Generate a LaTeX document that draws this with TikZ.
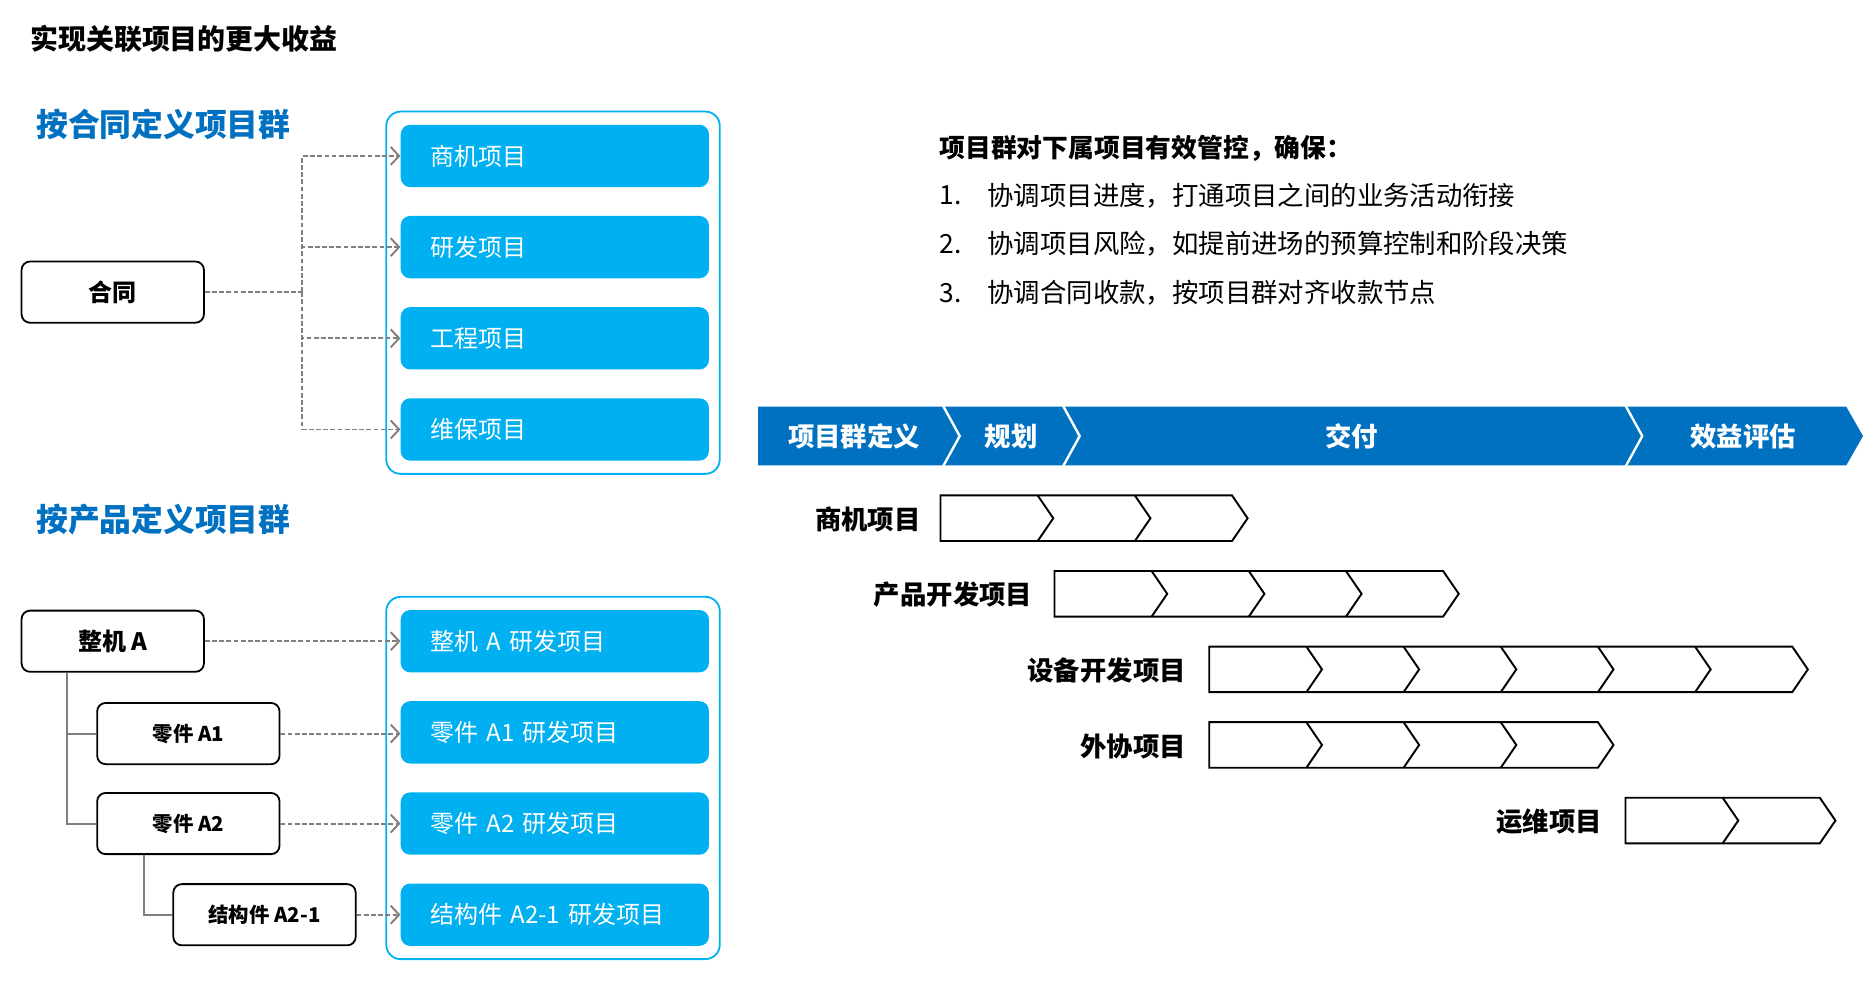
\documentclass[tikz,border=0pt]{standalone}
\usepackage{fontspec}
\setmainfont{Noto Sans CJK SC}
\usetikzlibrary{arrows.meta}
\definecolor{darkblue}{HTML}{0070C0}
\definecolor{lightblue}{HTML}{00B0F0}
\definecolor{conn}{HTML}{7F7F7F}
\newcommand\fsz[1]{\fontsize{#1pt}{#1pt}\selectfont}
\begin{document}
\begin{tikzpicture}[x=1pt,y=-1pt,
  outerbox/.style={draw=lightblue, line width=1.5pt, rounded corners=12pt, minimum width=278pt, minimum height=302pt, inner sep=0pt},
  projbox/.style={fill=lightblue, rounded corners=8pt, minimum width=257pt, minimum height=52pt, text width=207pt, align=left, inner xsep=25pt, inner ysep=0pt, text=white, font=\fsz{20}},
  leftbox/.style={draw=black, fill=white, line width=1.5pt, rounded corners=7pt, minimum width=152pt, minimum height=51pt, inner sep=0pt, font=\bfseries\fsz{20}},
  smallbox/.style={leftbox, font=\bfseries\fsz{17}},
  dasharrow/.style={draw=conn, line width=1.6pt, dash pattern=on 4pt off 2pt, -{Straight Barb[length=7pt,width=15pt]}},
  dashline/.style={draw=conn, line width=1.6pt, dash pattern=on 4pt off 2pt},
  treeline/.style={draw=conn, line width=1.6pt},
  chev/.style={draw=black, line width=1.6pt, line join=miter},
  phase/.style={text=white, font=\bfseries\fsz{22}},
  rowlabel/.style={anchor=east, font=\bfseries\fsz{22}},
  heading/.style={anchor=west, text=darkblue, font=\bfseries\fsz{26.5}, inner sep=0pt},
  listtext/.style={anchor=west, font=\fsz{22}, inner sep=0pt}
]
\useasboundingbox (0,0) rectangle (1563,820);

% title
\node[anchor=west, inner sep=0pt, font=\bfseries\fsz{23.3}] (title) at (25,32) {实现关联项目的更大收益};

% headings
\node[heading] (h1) at (30,104) {按合同定义项目群};
\node[heading] (h2) at (30,433) {按产品定义项目群};

% top group
\node[outerbox] (g1) at (461,244) {};
\node[projbox] (p1) at (462.5,130) {商机项目};
\node[projbox] (p2) at (462.5,206) {研发项目};
\node[projbox] (p3) at (462.5,282) {工程项目};
\node[projbox] (p4) at (462.5,358) {维保项目};
\node[leftbox] (ht) at (94,243.5) {合同};
\coordinate (j1) at (252,243.5);
\draw[dashline] (ht.east) -- (j1);
\draw[dasharrow] (j1) |- (p1.west);
\draw[dasharrow] (j1) |- (p2.west);
\draw[dasharrow] (j1) |- (p3.west);
\draw[dasharrow] (j1) |- (p4.west);

% bottom group
\node[outerbox] (g2) at (461,648.5) {};
\node[projbox] (q1) at (462.5,534.5) {整机 A 研发项目};
\node[projbox] (q2) at (462.5,610.5) {零件 A1 研发项目};
\node[projbox] (q3) at (462.5,686.5) {零件 A2 研发项目};
\node[projbox] (q4) at (462.5,762.5) {结构件 A2-1 研发项目};
\node[leftbox] (zj) at (94,534.5) {整机 A};
\node[smallbox] (a1) at (157,611.5) {零件 A1};
\node[smallbox] (a2) at (157,686.5) {零件 A2};
\node[smallbox] (s21) at (220.5,762.5) {结构件 A2-1};
\draw[treeline] ([xshift=-38pt]zj.south) |- (a1.west);
\draw[treeline] ([xshift=-38pt]zj.south) |- (a2.west);
\draw[treeline] ([xshift=-37pt]a2.south) |- (s21.west);
\draw[dasharrow] (zj.east) -- (zj.east -| q1.west);
\draw[dasharrow] (a1.east) -- (a1.east -| q2.west);
\draw[dasharrow] (a2.east) -- (a2.east -| q3.west);
\draw[dasharrow] (s21.east) -- (s21.east -| q4.west);

% right text
\node[anchor=west, inner sep=0pt, font=\bfseries\fsz{21.5}] (lh) at (783,124) {项目群对下属项目有效管控，确保：};
\node[listtext] (n1) at (783,163) {1.};
\node[listtext] (t1) at (823,163) {协调项目进度，打通项目之间的业务活动衔接};
\node[listtext] (n2) at (783,203.5) {2.};
\node[listtext] (t2) at (823,203.5) {协调项目风险，如提前进场的预算控制和阶段决策};
\node[listtext] (n3) at (783,244) {3.};
\node[listtext] (t3) at (823,244) {协调合同收款，按项目群对齐收款节点};

% phase bar
\fill[darkblue] (632,339) -- (1539,339) -- (1553,363.5) -- (1539,388) -- (632,388) -- cycle;
\foreach \sx in {786,886,1355} {
  \draw[white, line width=2pt] (\sx,338) -- (\sx+14,363.5) -- (\sx,389);
}
\node[phase] (ph1) at (712,364) {项目群定义};
\node[phase] (ph2) at (843,364) {规划};
\node[phase] (ph3) at (1127,364) {交付};
\node[phase] (ph4) at (1453,364) {效益评估};

% chevron rows
\foreach \x/\t/\n in {784/413/3, 879/476/4, 1008/539/6, 1008/602/4, 1355/665/2} {
  \pgfmathsetmacro\xe{\x+\n*81}
  \draw[chev] (\x,\t) -- (\xe,\t) -- (\xe+13,\t+19) -- (\xe,\t+38) -- (\x,\t+38) -- cycle;
  \pgfmathtruncatemacro\m{\n-1}
  \foreach \i in {1,...,\m} {
    \draw[chev] (\x+\i*81,\t) -- (\x+\i*81+13,\t+19) -- (\x+\i*81,\t+38);
  }
}
\node[rowlabel] (r1) at (771,433) {商机项目};
\node[rowlabel] (r2) at (864,496) {产品开发项目};
\node[rowlabel] (r3) at (992,559) {设备开发项目};
\node[rowlabel] (r4) at (992,622) {外协项目};
\node[rowlabel] (r5) at (1339,685) {运维项目};
\end{tikzpicture}
\end{document}
